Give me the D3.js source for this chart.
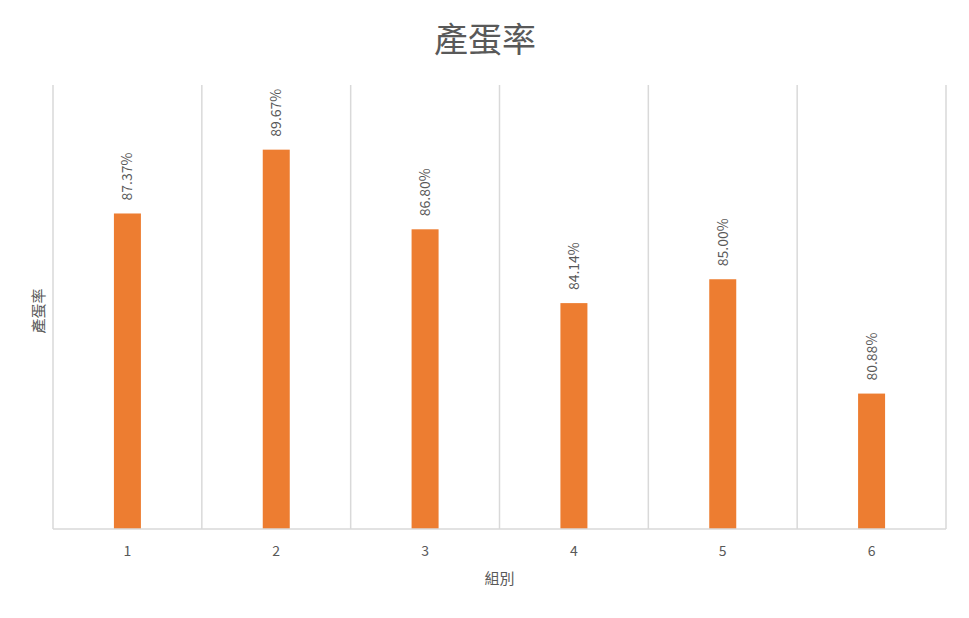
<!DOCTYPE html>
<html><head><meta charset="utf-8">
<script src="https://cdn.jsdelivr.net/npm/d3@7"></script>
<style>body{margin:0;background:#fff}svg{display:block}</style>
</head><body>
<script>
const categories = ["1","2","3","4","5","6"];
const values = [0.8737, 0.8967, 0.8680, 0.8414, 0.8500, 0.8088];
const labels = ["87.37%","89.67%","86.80%","84.14%","85.00%","80.88%"];
const yDomain = [0.76, 0.92];

const W = 969, H = 618;
const m = {left:53, right:23, top:85, bottom:89};
const svg = d3.select("body").append("svg").attr("width",W).attr("height",H);
const font = "'Noto Sans CJK TC','Noto Sans CJK SC',sans-serif";

const x = d3.scaleBand().domain(categories).range([m.left, W-m.right]).paddingInner(0).paddingOuter(0);
const y = d3.scaleLinear().domain(yDomain).range([H-m.bottom, m.top]);

// vertical gridlines at band boundaries
const bounds = categories.map(c => x(c)).concat([x(categories[categories.length-1]) + x.bandwidth()]);
svg.append("g").selectAll("line").data(bounds).join("line")
  .attr("x1", d=>d).attr("x2", d=>d).attr("y1", m.top).attr("y2", H-m.bottom)
  .attr("stroke","#d9d9d9").attr("stroke-width",1.5);

// bars
const bw = 27;
svg.append("g").selectAll("rect").data(values).join("rect")
  .attr("x",(d,i)=>x(categories[i]) + x.bandwidth()/2 - bw/2)
  .attr("width",bw)
  .attr("y",d=>y(d))
  .attr("height",d=>y(yDomain[0]) - y(d))
  .attr("fill","#ed7d31");

// x axis line
svg.append("line").attr("x1",m.left).attr("x2",W-m.right)
  .attr("y1",H-m.bottom).attr("y2",H-m.bottom)
  .attr("stroke","#d9d9d9").attr("stroke-width",1.5);

// x tick labels
const xAxis = d3.axisBottom(x).tickSize(0).tickPadding(17);
const gx = svg.append("g").attr("transform",`translate(0,${H-m.bottom})`).call(xAxis);
gx.select(".domain").remove();
gx.selectAll("text").attr("font-family",font).attr("font-size",14).attr("fill","#595959");

// data labels
svg.append("g").selectAll("text").data(values).join("text")
  .attr("transform",(d,i)=>`translate(${x(categories[i]) + x.bandwidth()/2 + 5},${y(d)-13}) rotate(-90)`)
  .attr("font-family",font).attr("font-size",14).attr("fill","#595959")
  .text((d,i)=>labels[i]);

// title
svg.append("text").attr("x",485).attr("y",52)
  .attr("text-anchor","middle").attr("font-family",font).attr("font-size",34)
  .attr("fill","#595959").text("產蛋率");

// y axis title
svg.append("text").attr("transform",`translate(44,${(m.top + H-m.bottom)/2 + 4}) rotate(-90)`)
  .attr("text-anchor","middle").attr("font-family",font).attr("font-size",15)
  .attr("fill","#595959").text("產蛋率");

// x axis title
svg.append("text").attr("x",(m.left + W-m.right)/2).attr("y",584)
  .attr("text-anchor","middle").attr("font-family",font).attr("font-size",15)
  .attr("fill","#595959").text("組別");
</script>
</body></html>
